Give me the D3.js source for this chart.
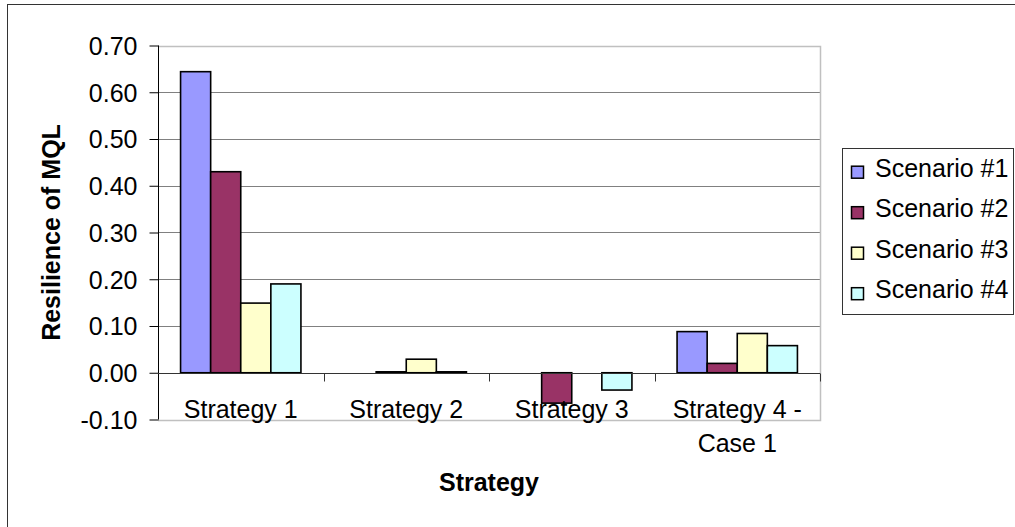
<!DOCTYPE html>
<html>
<head>
<meta charset="utf-8">
<script src="https://cdn.jsdelivr.net/npm/d3@7"></script>
<style>
  html, body { margin: 0; padding: 0; background: #fff; }
  svg { display: block; }
  text { font-family: "Liberation Sans", Arial, sans-serif; fill: #000; }
</style>
</head>
<body>
<svg id="chart" width="1015" height="527"></svg>
<script>
// Strategy categories (multi-line labels split on "\n")
const categories = ["Strategy 1", "Strategy 2", "Strategy 3", "Strategy 4 -\nCase 1"];
const seriesNames = ["Scenario #1", "Scenario #2", "Scenario #3", "Scenario #4"];
const seriesColors = ["#9999FF", "#993366", "#FFFFCC", "#CCFFFF"];

// Resilience of MQL per scenario, one value per strategy
const scenario1 = [0.644, 0.000, 0.000, 0.088];
const scenario2 = [0.430, 0.002, -0.065, 0.020];
const scenario3 = [0.149, 0.029, 0.000, 0.084];
const scenario4 = [0.190, 0.002, -0.037, 0.058];

const yTicks = [-0.1, 0, 0.1, 0.2, 0.3, 0.4, 0.5, 0.6, 0.7];

const seriesValues = [scenario1, scenario2, scenario3, scenario4];

const svg = d3.select("#chart");

// Outer chart frame
svg.append("rect")
  .attr("x", 7.5).attr("y", 4.5)
  .attr("width", 1100).attr("height", 600)
  .attr("fill", "#fff").attr("stroke", "#333").attr("stroke-width", 1);

const plot = { left: 158, right: 820, top: 45.5, bottom: 419.5 };

const x0 = d3.scaleBand().domain(categories).range([plot.left, plot.right]).padding(0);
const x1 = d3.scaleBand().domain(seriesNames).range([0, x0.bandwidth()])
  .paddingInner(0).paddingOuter(0.75);
const y = d3.scaleLinear().domain([-0.1, 0.7]).range([plot.bottom, plot.top]);

// Horizontal gridlines
svg.append("g")
  .selectAll("line")
  .data(yTicks.filter(t => t > -0.1 && t < 0.7 && t !== 0))
  .join("line")
  .attr("x1", plot.left).attr("x2", plot.right)
  .attr("y1", d => Math.round(y(d)) + 0.5).attr("y2", d => Math.round(y(d)) + 0.5)
  .attr("stroke", "#808080").attr("stroke-width", 1);

// Plot area border (top, right, bottom)
svg.append("path")
  .attr("d", `M${plot.left},${Math.round(plot.top) + 0.5}H${plot.right + 0.5}V${Math.round(plot.bottom) + 0.5}H${plot.left}`)
  .attr("fill", "none").attr("stroke", "#c0c0c0").attr("stroke-width", 1.5);

// Bars
const barData = [];
categories.forEach((c, ci) => {
  seriesNames.forEach((s, si) => {
    barData.push({ cat: c, series: s, value: seriesValues[si][ci], color: seriesColors[si] });
  });
});

svg.append("g")
  .selectAll("rect")
  .data(barData.filter(d => d.value !== 0))
  .join("rect")
  .attr("x", d => x0(d.cat) + x1(d.series))
  .attr("y", d => y(Math.max(0, d.value)))
  .attr("width", x1.bandwidth())
  .attr("height", d => Math.abs(y(d.value) - y(0)))
  .attr("fill", d => d.color)
  .attr("stroke", "#000").attr("stroke-width", 1.6);

// Y axis
const yAxis = d3.axisLeft(y).tickValues(yTicks).tickFormat(d3.format(".2f")).tickSize(9).tickPadding(12);
const gy = svg.append("g").attr("transform", `translate(${plot.left + 0.5},0)`).call(yAxis);
gy.select(".domain").attr("stroke", "#000").attr("d", `M0,${plot.top}V${plot.bottom}`);
gy.selectAll(".tick line").attr("stroke", "#000");
gy.selectAll(".tick text")
  .attr("font-size", 25)
  .attr("font-family", '"Liberation Sans", Arial, sans-serif')
  .attr("fill", "#000")
  .attr("dy", "0.35em")
  .text(d => d < 0 ? "-" + d3.format(".2f")(-d) : d3.format(".2f")(d));

// Category axis along zero
const zeroY = Math.round(y(0)) + 0.5;
const xAxis = d3.axisBottom(x0).tickSize(0).tickFormat("");
const gx = svg.append("g").attr("transform", `translate(0,${zeroY})`).call(xAxis);
gx.select(".domain").attr("stroke", "#333").attr("d", `M${plot.left},0H${plot.right}`);

// Category boundary ticks
const boundaries = categories.map(c => x0(c)).concat([plot.right]);
svg.append("g").selectAll("line").data(boundaries.slice(1))
  .join("line")
  .attr("x1", d => Math.round(d) + 0.5).attr("x2", d => Math.round(d) + 0.5)
  .attr("y1", zeroY).attr("y2", zeroY + 8)
  .attr("stroke", "#333").attr("stroke-width", 1);

// Category labels
const catLabels = svg.append("g").selectAll("text").data(categories)
  .join("text")
  .attr("x", d => x0(d) + x0.bandwidth() / 2)
  .attr("y", 418)
  .attr("text-anchor", "middle")
  .attr("font-size", 25);
catLabels.each(function(d) {
  const t = d3.select(this);
  d.split("\n").forEach((line, i) => {
    t.append("tspan")
      .attr("x", x0(d) + x0.bandwidth() / 2)
      .attr("dy", i === 0 ? 0 : 34)
      .text(line);
  });
});

// Axis titles
svg.append("text")
  .attr("x", 489).attr("y", 491)
  .attr("text-anchor", "middle")
  .attr("font-size", 25).attr("font-weight", "bold")
  .text("Strategy");

svg.append("text")
  .attr("transform", `translate(60,${(plot.top + plot.bottom) / 2}) rotate(-90)`)
  .attr("text-anchor", "middle")
  .attr("font-size", 25).attr("font-weight", "bold")
  .text("Resilience of MQL");

// Legend
const legend = svg.append("g");
legend.append("rect")
  .attr("x", 842.5).attr("y", 148.5)
  .attr("width", 171).attr("height", 166)
  .attr("fill", "#fff").attr("stroke", "#333").attr("stroke-width", 1);

const items = legend.selectAll("g.item").data(seriesNames)
  .join("g").attr("class", "item")
  .attr("transform", (d, i) => `translate(0,${176.7 + i * 40.5})`);
items.append("rect")
  .attr("x", 851.5).attr("y", -10.5)
  .attr("width", 12).attr("height", 12)
  .attr("fill", (d, i) => seriesColors[i])
  .attr("stroke", "#000").attr("stroke-width", 1.5);
items.append("text")
  .attr("x", 875).attr("y", 0)
  .attr("font-size", 25)
  .text(d => d);
</script>
</body>
</html>
